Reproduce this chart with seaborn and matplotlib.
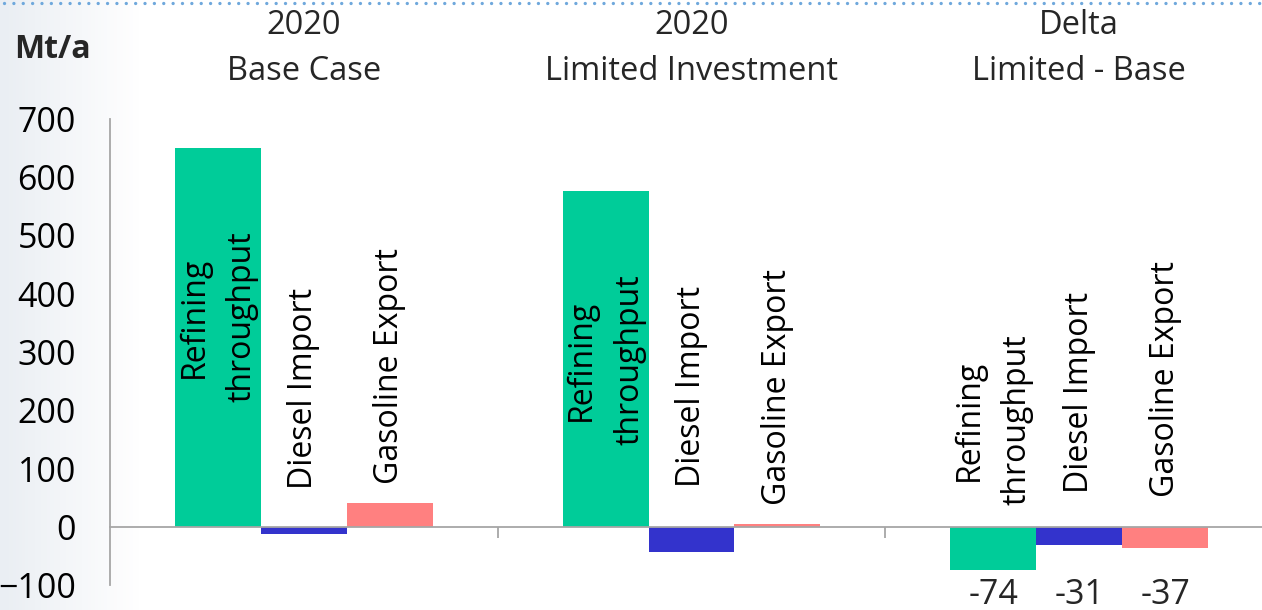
import numpy as np
import pandas as pd
import matplotlib
matplotlib.use("Agg")
import matplotlib.pyplot as plt
import matplotlib.transforms as mtrans
from matplotlib.lines import Line2D
import seaborn as sns

# data
scenarios = ["Base", "Limited", "Delta"]
title_top = ["2020", "2020", "Delta"]
title_bottom = ["Base Case", "Limited Investment", "Limited - Base"]
items = ["Refining throughput", "Diesel Import", "Gasoline Export"]
item_labels = ["Refining\nthroughput", "Diesel Import", "Gasoline Export"]
base_vals = [650, -13, 41]
limited_vals = [576, -44, 4]
delta_vals = [-74, -31, -37]
yticks = [-100, 0, 100, 200, 300, 400, 500, 600, 700]

# where the rotated labels sit (centre, in Mt/a)
label_y = [[360, 238, 276], [286, 241, 239], [183, 230, 253]]

colors = ["#00CC99", "#3333CC", "#FF8080"]
grey = "#A6A6A6"
group_w = 0.665

df = pd.DataFrame({
    "scenario": np.repeat(scenarios, 3),
    "item": items * 3,
    "value": base_vals + limited_vals + delta_vals,
})

sns.set_theme(style="white")
plt.rcParams["font.family"] = ["Open Sans", "DejaVu Sans"]

fig = plt.figure(figsize=(12.62, 6.10), dpi=100)

# faint slide background on the left + dotted rule on top
bg = fig.add_axes([0, 0, 1, 1], zorder=-5)
grad = np.linspace(0, 1, 400)
fade = np.clip(grad / 0.11, 0, 1)
img = np.zeros((2, 400, 3))
for k, c in enumerate([234, 238, 243]):
    img[:, :, k] = (c + (255 - c) * fade) / 255
bg.imshow(img, aspect="auto", extent=[0, 1, 0, 1])
bg.set_xlim(0, 1); bg.set_ylim(0, 1)
bg.axis("off")
fig.add_artist(Line2D([0.003, 1], [1 - 3 / 610, 1 - 3 / 610], transform=fig.transFigure,
                      color="#6FA8DC", lw=2.4, linestyle=(0, (0.01, 2.8)),
                      dash_capstyle="round"))

ax = fig.add_axes([110 / 1262, 25 / 610, 1 - 110 / 1262, 466 / 610])
ax.set_facecolor("none")

sns.barplot(data=df, x="scenario", y="value", hue="item", order=scenarios,
            hue_order=items, palette=colors, saturation=1, width=group_w,
            errorbar=None, legend=False, linewidth=0, ax=ax)

ax.set_ylim(-100, 700)
ax.set_xlim(-0.5, 2.5 - 11 / 388)
ax.set_yticks(yticks)
ax.set_xticks([0.5, 1.5])
ax.set_xticklabels([])
ax.set_xlabel("")
ax.set_ylabel("")

for s in ["top", "right"]:
    ax.spines[s].set_visible(False)
ax.spines["bottom"].set_position(("data", 0))
for s in ["left", "bottom"]:
    ax.spines[s].set_color(grey)
    ax.spines[s].set_linewidth(1.3)
ax.tick_params(axis="y", direction="out", length=8.6, width=1.3, color=grey,
               pad=16, labelsize=24.5, labelcolor="black")
ax.tick_params(axis="x", direction="out", length=8, width=1.3, color=grey, bottom=True)

# rotated category labels on the bars
bw = group_w / 3
for i in range(3):
    for j in range(3):
        ax.text(i + (j - 1) * bw, label_y[i][j], item_labels[j], rotation=90,
                ha="center", va="center", multialignment="center",
                fontsize=23, linespacing=1.6, color="black")

# delta values under the delta bars
for j, v in enumerate(delta_vals):
    ax.text(2 + (j - 1) * bw, -117, f"{v}", ha="center", va="center",
            fontsize=24.5, clip_on=False)

# column headings
tr = mtrans.blended_transform_factory(ax.transData, fig.transFigure)
for i in range(3):
    ax.text(i, 1 - 25 / 610, title_top[i], transform=tr, ha="center", va="center", fontsize=23.5)
    ax.text(i, 1 - 72 / 610, title_bottom[i], transform=tr, ha="center", va="center", fontsize=23.5)

fig.text(52 / 1262, 1 - 50 / 610, "Mt/a", ha="center", va="center",
         fontsize=23, fontweight="bold")

fig.savefig("out.png", dpi=100)
